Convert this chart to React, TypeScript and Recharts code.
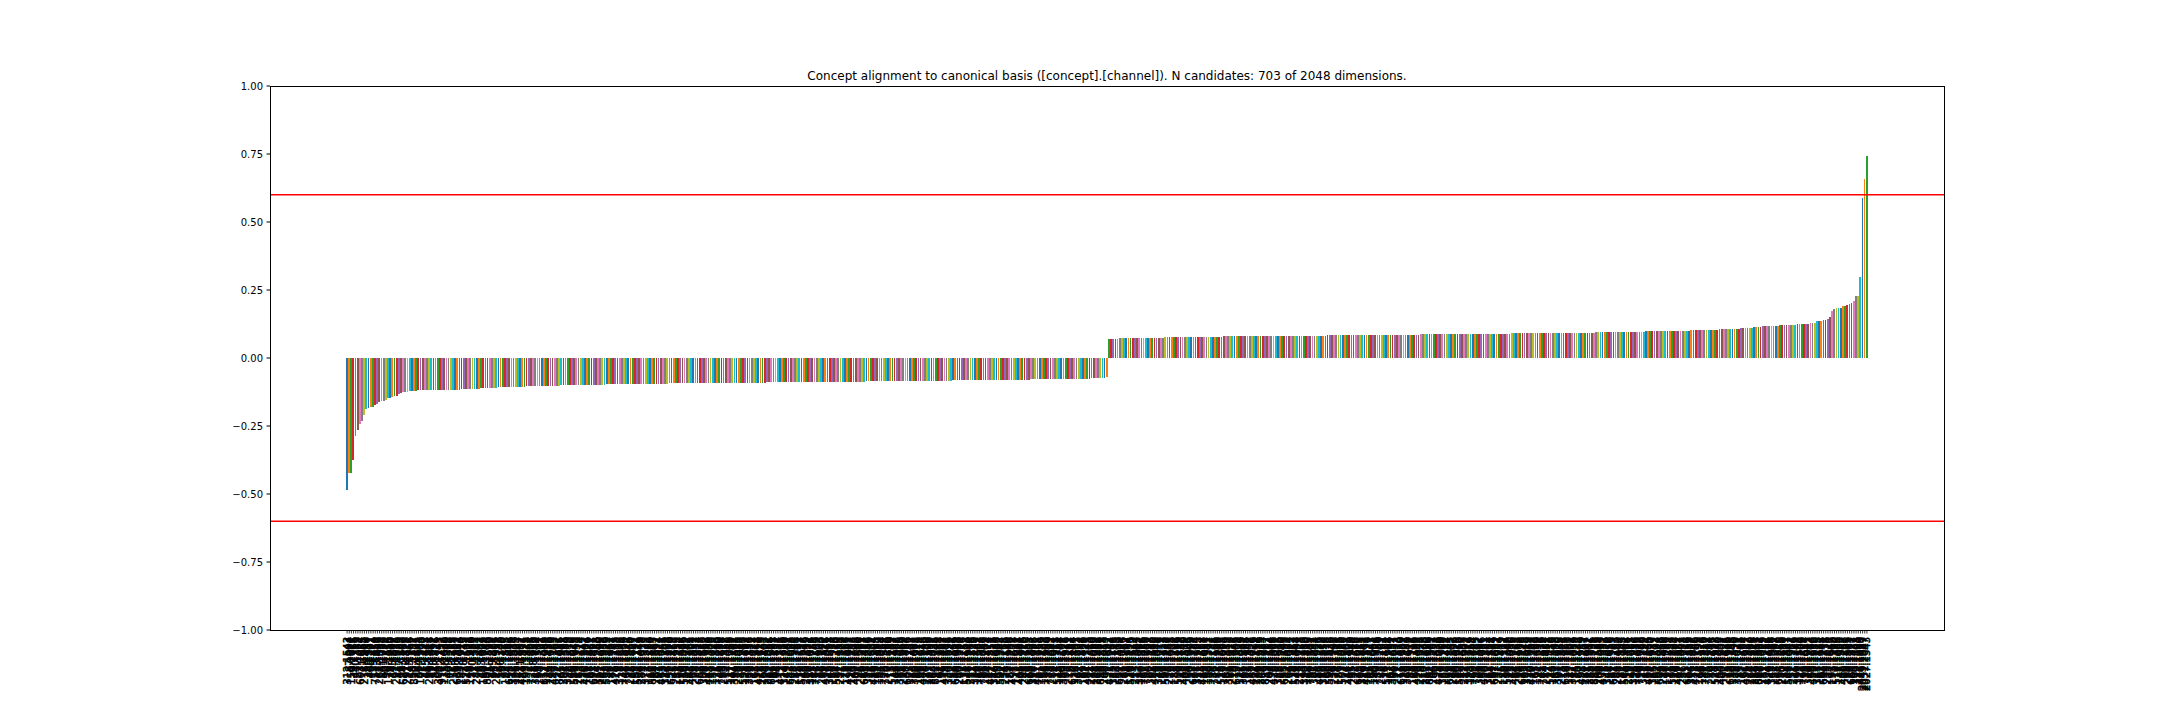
import { Bar, BarChart, Cell, ReferenceLine, XAxis, YAxis } from "recharts";

const TAB10 = ["#1f77b4", "#ff7f0e", "#2ca02c", "#d62728", "#9467bd", "#8c564b", "#e377c2", "#7f7f7f", "#bcbd22", "#17becf"];

const TITLE = "Concept alignment to canonical basis ([concept].[channel]). N candidates: 703 of 2048 dimensions.";

const Y_TICKS = [-1, -0.75, -0.5, -0.25, 0, 0.25, 0.5, 0.75, 1];
const THRESHOLD = 0.6;

// sorted alignment scores, negative side (352 candidates)
const NEG_VALUES = [
  -0.485, -0.423, -0.423, -0.375, -0.287, -0.265, -0.243, -0.232, -0.21, -0.188,
  -0.184, -0.18, -0.18, -0.173, -0.169, -0.162, -0.158, -0.158, -0.154, -0.147,
  -0.147, -0.143, -0.14, -0.14, -0.132, -0.129, -0.125, -0.125, -0.125, -0.121,
  -0.121, -0.121, -0.121,
  -0.118, -0.118, -0.118, -0.118, -0.118, -0.118, -0.118, -0.118, -0.118, -0.118,
  -0.118, -0.118, -0.118, -0.118, -0.118, -0.118, -0.118, -0.118, -0.118, -0.118,
  -0.114, -0.114, -0.114, -0.114, -0.114, -0.114, -0.114, -0.114, -0.114,
  -0.11, -0.11, -0.11, -0.11, -0.11, -0.11, -0.11, -0.11,
  -0.107, -0.107, -0.107, -0.107, -0.107, -0.107, -0.107, -0.107, -0.107, -0.107,
  -0.107, -0.107, -0.107,
  -0.103, -0.103, -0.103, -0.103, -0.103, -0.103, -0.103, -0.103, -0.103, -0.103,
  -0.103, -0.103, -0.103, -0.103, -0.103, -0.103,
  -0.099, -0.099, -0.099, -0.099, -0.099, -0.099, -0.099, -0.099, -0.099, -0.099,
  -0.099, -0.099, -0.099, -0.099, -0.099, -0.099, -0.099, -0.099, -0.099, -0.099,
  -0.099,
  -0.096, -0.096, -0.096, -0.096, -0.096, -0.096, -0.096, -0.096, -0.096, -0.096,
  -0.096, -0.096, -0.096, -0.096, -0.096, -0.096, -0.096, -0.096, -0.096, -0.096,
  -0.096, -0.096, -0.096, -0.096, -0.096, -0.096, -0.096, -0.096, -0.096,
  -0.092, -0.092, -0.092, -0.092, -0.092, -0.092, -0.092, -0.092, -0.092, -0.092,
  -0.092, -0.092, -0.092, -0.092, -0.092, -0.092, -0.092, -0.092, -0.092, -0.092,
  -0.092, -0.092, -0.092, -0.092, -0.092, -0.092, -0.092, -0.092, -0.092, -0.092,
  -0.092, -0.092, -0.092, -0.092, -0.092, -0.092, -0.092, -0.092, -0.092, -0.092,
  -0.092, -0.092, -0.092, -0.092, -0.092,
  -0.088, -0.088, -0.088, -0.088, -0.088, -0.088, -0.088, -0.088, -0.088, -0.088,
  -0.088, -0.088, -0.088, -0.088, -0.088, -0.088, -0.088, -0.088, -0.088, -0.088,
  -0.088, -0.088, -0.088, -0.088, -0.088, -0.088, -0.088, -0.088, -0.088, -0.088,
  -0.088, -0.088, -0.088, -0.088, -0.088, -0.088, -0.088, -0.088, -0.088, -0.088,
  -0.088, -0.088, -0.088, -0.088, -0.088, -0.088,
  -0.085, -0.085, -0.085, -0.085, -0.085, -0.085, -0.085, -0.085, -0.085, -0.085,
  -0.085, -0.085, -0.085, -0.085, -0.085, -0.085, -0.085, -0.085, -0.085, -0.085,
  -0.085, -0.085, -0.085, -0.085, -0.085, -0.085, -0.085, -0.085, -0.085, -0.085,
  -0.085, -0.085, -0.085, -0.085, -0.085, -0.085, -0.085, -0.085, -0.085, -0.085,
  -0.081, -0.081, -0.081, -0.081, -0.081, -0.081, -0.081, -0.081, -0.081, -0.081,
  -0.081, -0.081, -0.081, -0.081, -0.081, -0.081, -0.081, -0.081, -0.081, -0.081,
  -0.081, -0.081, -0.081, -0.081, -0.081, -0.081, -0.081, -0.081, -0.081, -0.081,
  -0.081, -0.081, -0.081, -0.081, -0.081, -0.081,
  -0.077, -0.077, -0.077, -0.077, -0.077, -0.077, -0.077, -0.077, -0.077, -0.077,
  -0.077, -0.077, -0.077, -0.077, -0.077, -0.077, -0.077, -0.077, -0.077, -0.077,
  -0.077, -0.077, -0.077, -0.077, -0.077, -0.077, -0.077, -0.077,
  -0.074, -0.074, -0.074, -0.074, -0.074, -0.074, -0.074, -0.07,
];

// positive side (351 candidates)
const POS_VALUES = [
  0.07, 0.07, 0.07, 0.07, 0.07,
  0.074, 0.074, 0.074, 0.074, 0.074, 0.074, 0.074, 0.074, 0.074, 0.074,
  0.074, 0.074, 0.074, 0.074, 0.074, 0.074, 0.074, 0.074, 0.074, 0.074,
  0.074,
  0.077, 0.077, 0.077, 0.077, 0.077, 0.077, 0.077, 0.077, 0.077, 0.077,
  0.077, 0.077, 0.077, 0.077, 0.077, 0.077, 0.077, 0.077, 0.077, 0.077,
  0.077, 0.077, 0.077, 0.077, 0.077, 0.077, 0.077,
  0.081, 0.081, 0.081, 0.081, 0.081, 0.081, 0.081, 0.081, 0.081, 0.081,
  0.081, 0.081, 0.081, 0.081, 0.081, 0.081, 0.081, 0.081, 0.081, 0.081,
  0.081, 0.081, 0.081, 0.081, 0.081, 0.081, 0.081, 0.081, 0.081, 0.081,
  0.081, 0.081, 0.081, 0.081, 0.081, 0.081, 0.081, 0.081, 0.081, 0.081,
  0.081, 0.081, 0.081, 0.081, 0.081, 0.081, 0.081, 0.081,
  0.085, 0.085, 0.085, 0.085, 0.085, 0.085, 0.085, 0.085, 0.085, 0.085,
  0.085, 0.085, 0.085, 0.085, 0.085, 0.085, 0.085, 0.085, 0.085, 0.085,
  0.085, 0.085, 0.085, 0.085, 0.085, 0.085, 0.085, 0.085, 0.085, 0.085,
  0.085, 0.085, 0.085, 0.085, 0.085, 0.085, 0.085, 0.085, 0.085, 0.085,
  0.085, 0.085, 0.085,
  0.088, 0.088, 0.088, 0.088, 0.088, 0.088, 0.088, 0.088, 0.088, 0.088,
  0.088, 0.088, 0.088, 0.088, 0.088, 0.088, 0.088, 0.088, 0.088, 0.088,
  0.088, 0.088, 0.088, 0.088, 0.088, 0.088, 0.088, 0.088, 0.088, 0.088,
  0.088, 0.088, 0.088, 0.088, 0.088, 0.088, 0.088, 0.088, 0.088, 0.088,
  0.088, 0.088,
  0.092, 0.092, 0.092, 0.092, 0.092, 0.092, 0.092, 0.092, 0.092, 0.092,
  0.092, 0.092, 0.092, 0.092, 0.092, 0.092, 0.092, 0.092, 0.092, 0.092,
  0.092, 0.092, 0.092, 0.092, 0.092, 0.092, 0.092, 0.092, 0.092, 0.092,
  0.092, 0.092, 0.092, 0.092, 0.092, 0.092, 0.092, 0.092, 0.092,
  0.096, 0.096, 0.096, 0.096, 0.096, 0.096, 0.096, 0.096, 0.096, 0.096,
  0.096, 0.096, 0.096, 0.096, 0.096, 0.096, 0.096, 0.096, 0.096, 0.096,
  0.096, 0.096, 0.096,
  0.099, 0.099, 0.099, 0.099, 0.099, 0.099, 0.099, 0.099, 0.099, 0.099,
  0.099, 0.099, 0.099, 0.099, 0.099, 0.099, 0.099, 0.099, 0.099, 0.099,
  0.099,
  0.103, 0.103, 0.103, 0.103, 0.103, 0.103, 0.103, 0.103, 0.103, 0.103,
  0.103, 0.103, 0.103,
  0.107, 0.107, 0.107, 0.107, 0.107, 0.107, 0.107, 0.107, 0.107, 0.107,
  0.11, 0.11, 0.11, 0.11, 0.11, 0.11,
  0.114, 0.114, 0.114, 0.114,
  0.118, 0.118, 0.118, 0.118, 0.118, 0.118, 0.118, 0.118,
  0.121, 0.121, 0.121, 0.121, 0.121, 0.121, 0.121, 0.121,
  0.125, 0.125, 0.125, 0.125, 0.125, 0.125,
  0.129, 0.129, 0.129, 0.136, 0.136, 0.136, 0.14, 0.14,
  0.143, 0.151, 0.173, 0.18, 0.184, 0.184, 0.184, 0.191, 0.191, 0.195,
  0.199, 0.202, 0.21, 0.228, 0.228, 0.298, 0.588, 0.658, 0.743,
];

// candidate ids, "[concept].[channel]"
const TICK_LABELS = `
312.1543 87.904 150.2011 9.1766 440.311 27.1389 603.1024 71.655 218.1902 5.1430 388.977 46.1201 129.874 752.1650 33.421 267.1999 14.1088 501.736 90.1314
176.1555 8.1920 345.602 61.1473 222.1035 417.189 39.1847 684.1260 12.518 297.1711 143.966 58.1392 820.1127 23.1605 364.744 101.1983 7.1290 455.843 66.1541
231.1718 19.1067 578.392 84.1826 300.1143 42.257 917.1472 135.1630 3.1999 409.568 72.1215 256.1788 18.903 639.1351 95.1044 187.1920 28.715 522.1603 49.1178
118.1936 710.480 37.1523 284.1261 6.1862 433.627 160.1099 57.1744 802.1318 25.1590 349.811 93.1406 212.1957 15.1733 566.349 78.1120 193.1865 44.1282 655.1048
11.1679 378.1534 106.1009 241.1847 31.682 487.1377 69.1225 153.1928 2.1461 721.1806 88.953 326.1149 53.1574 198.1702 17.1331 612.1089 124.1995 36.1438 274.1620
97.1185 449.1763 22.1297 831.1056 65.1911 207.1398 4.1584 392.1219 140.1870 55.1026 589.1643 29.1352 263.1779 113.1114 20.1947 476.1503 81.1276 168.1832 41.1067
693.1421 14.1988 357.1240 102.1695 247.1038 63.1856 538.1329 26.1562 181.1901 76.1147 424.1788 9.1413 318.1206 131.1934 48.1599 766.1072 21.1845 235.1360 86.1627
158.1192 507.1711 34.1449 289.1018 5.1973 371.1535 117.1284 60.1810 845.1163 24.1667 202.1392 91.1924 463.1041 13.1756 332.1303 146.1588 52.1870 621.1129 38.1468
251.1955 73.1214 190.1637 16.1386 558.1099 109.1742 43.1265 406.1908 83.1551 228.1031 1.1814 682.1427 99.1680 306.1152 27.1993 445.1339 127.1706 59.1073 171.1845
35.1480 740.1239 68.1616 283.1927 12.1358 517.1045 137.1779 47.1201 394.1862 89.1525 216.1088 7.1947 599.1310 121.1693 30.1154 352.1836 79.1412 163.1271 54.1968
472.1117 18.1629 268.1745 104.1403 239.1982 62.1056 861.1521 39.1298 194.1857 94.1134 413.1711 3.1389 324.1920 149.1247 51.1603 643.1086 28.1944 257.1368 75.1751
132.1192 529.1637 45.1318 209.1899 10.1471 381.1026 115.1785 67.1245 776.1569 23.1903 296.1140 85.1822 437.1376 16.1061 343.1598 156.1934 57.1223 584.1710 32.1455
221.1872 71.1109 179.1666 6.1341 494.1987 111.1253 40.1725 402.1098 92.1590 245.1961 19.1322 665.1417 98.1788 311.1046 26.1631 458.1204 139.1865 61.1382 184.1919
37.1064 729.1543 70.1286 277.1830 13.1159 512.1702 142.1437 49.1968 386.1025 87.1669 214.1309 8.1884 607.1136 125.1752 33.1497 359.1063 80.1928 166.1275 56.1614
481.1848 20.1180 271.1523 107.1899 243.1357 64.1035 852.1746 41.1288 197.1961 96.1422 419.1107 4.1675 330.1896 152.1241 53.1566 649.1019 30.1833 260.1399 77.1728
134.1152 533.1603 46.1940 211.1268 11.1815 384.1130 119.1581 66.1993 781.1366 25.1047 299.1709 84.1474 441.1851 17.1216 346.1637 159.1080 58.1902 592.1343 34.1765
224.1114 72.1549 182.1986 7.1232 497.1678 112.1021 42.1804 405.1441 93.1926 248.1170 21.1655 669.1303 100.1877 314.1098 27.1722 461.1385 141.1954 62.1139 186.1603
38.1860 733.1229 71.1692 280.1047 14.1918 515.1351 144.1784 50.1107 389.1625 88.1976 217.1262 9.1831 610.1154 126.1497 34.1703 362.1032 81.1888 169.1436 57.1171
484.1745 21.1313 274.1660 108.1089 246.1935 65.1456 856.1221 42.1818 200.1073 97.1592 422.1947 5.1264 333.1718 153.1145 54.1873 652.1409 31.1036 262.1762 78.1297
136.1954 536.1125 47.1679 213.1344 12.1903 387.1062 120.1816 67.1481 785.1250 26.1997 302.1133 85.1660 444.1412 18.1849 348.1076 161.1711 59.1323 595.1928 35.1187
226.1645 73.1038 185.1793 8.1466 500.1219 113.1882 43.1140 408.1579 94.1006 250.1842 22.1399 672.1733 101.1164 317.1935 28.1287 464.1618 143.1057 63.1981 188.1372
39.1797 736.1145 72.1526 282.1908 15.1262 518.1685 145.1093 51.1839 391.1417 89.1220 219.1971 10.1646 613.1308 127.1874 35.1039 365.1591 82.1168 171.1942 58.1355
487.1026 22.1779 276.1194 109.1614 249.1829 66.1283 859.1967 43.1117 203.1654 98.1406 425.1866 6.1071 336.1535 154.1990 55.1246 655.1698 32.1431 264.1084 79.1917
138.1363 539.1848 48.1097 215.1728 13.1253 390.1989 122.1410 68.1135 789.1602 27.1791 305.1042 86.1926 447.1237 19.1570 350.1854 162.1118 60.1675 598.1336 36.1949
229.1196 74.1711 187.1386 9.1922 503.1050 114.1567 44.1803 411.1129 95.1940 252.1274 23.1688 675.1015 102.1855 320.1441 29.1172 467.1896 146.1327 64.1643 190.1061
40.1926 739.1358 73.1209 285.1761 16.1424 521.1102 147.1984 52.1292 394.1657 90.1037 221.1813 11.1470 616.1189 128.1902 36.1231 368.1640 83.1977 173.1116 59.1796
490.1402 23.1045 279.1878 110.1333 252.1690 67.1158 862.1949 44.1561 206.1252 99.1838 428.1076 7.1709 339.1960 155.1211 56.1482 658.1845 33.1137 266.1593 80.1029
140.1875 542.1260 49.1638 217.1003 14.1771 393.1314 123.1969 69.1444 792.1185 28.1862 308.1527 87.1096 450.1951 20.1381 353.1164 164.1817 61.1234 601.1699 37.1082
231.1934 75.1419 189.1127 10.1784 506.1342 115.1990 45.1056 414.1723 96.1265 254.1587 24.1930 678.1176 103.1643 323.1019 30.1868 470.1303 147.1741 65.1480 192.1859
41.1216 742.1679 74.1034 287.1452 17.1911 524.1230 148.1516 53.1793 397.1070 91.1885 223.1342 12.1126 619.1967 129.1560 37.1301 371.1834 84.1059 175.1725 60.1448
493.1939 24.1251 282.1607 111.1042 255.1871 68.1396 865.1121 45.1739 209.1588 100.1013 431.1892 8.1333 342.1079 156.1656 57.1925 661.1207 34.1763 268.1440 81.1994
142.1143 545.1902 50.1468 219.1721 15.1085 396.1954 124.1338 70.1615 796.1027 29.1780 311.1299 88.1844 453.1165 21.1620 355.1937 165.1272 62.1503 604.1048 38.1864
233.1419 76.1996 191.1263 11.1557 509.1829 116.1104 46.1672 417.1381 97.1947 256.1038 25.1714 681.1352 104.1889 326.1237 31.1046 473.1766 148.1598 66.1123 194.1976
42.1310 745.1847 75.1584 289.1116 18.1697 527.1973 149.1240 54.1032 400.1802 92.1427 225.1675 13.1909 622.1155 130.1348 38.1890 374.1071 85.1743 177.1285 61.1654
496.1227 25.1952 284.1460 112.1878 258.1141 69.1613 868.1302 46.1987 211.1029 101.1752 434.1386 9.1615 345.1936 157.1092 58.1397 664.1820 35.1255 270.1690 82.1121
144.1807 548.1047 51.1963 221.1376 16.1742 399.1133 125.1888 71.1206 799.1654 30.1041 314.1912 89.1283 456.1696 22.1858 357.1115 167.1582 63.1948 607.1271 39.1736
235.1024 77.1647 193.1919 12.1390 512.1786 117.1064 47.1933 420.1268 98.1821 258.1505 26.1163 684.1977 105.1431 329.1708 32.1084 476.1858 2043.1987 2031.2047 2027.1543
`.trim().split(/\s+/);

const data = [...NEG_VALUES, ...POS_VALUES].map((value, i) => ({ label: TICK_LABELS[i] ?? "", value }));

// axes box in page pixels (matplotlib-style frame)
const W = 2160;
const H = 720;
const BOX = { left: 270, top: 86, right: 1944, bottom: 630 };
const Y_AXIS_W = 60;
const X_AXIS_H = 70;

const fmtY = (v: number) => (v < 0 ? "\u2212" : "") + Math.abs(v).toFixed(2);

function RotatedTick({ x, y, payload }: any) {
  return (
    <text
      transform={`translate(${x},${y}) rotate(-90)`}
      textAnchor="end"
      dominantBaseline="central"
      fontSize={10}
      fill="#000"
      stroke="#000"
      strokeWidth={0.5}
    >
      {payload.value}
    </text>
  );
}

function CrispBar({ x, y, width, height, fill }: any) {
  if (!width || !height) return null;
  const top = height < 0 ? y + height : y;
  return <rect x={x} y={top} width={width} height={Math.abs(height)} fill={fill} shapeRendering="crispEdges" />;
}

export default function App() {
  return (
    <div style={{ position: "absolute", left: 0, top: 0, width: W, height: H, background: "#fff", fontFamily: "DejaVu Sans" }}>
      <BarChart
        width={W}
        height={H}
        data={data}
        margin={{ top: BOX.top, right: W - BOX.right, bottom: H - BOX.bottom - X_AXIS_H, left: BOX.left - Y_AXIS_W }}
      >
        <XAxis
          dataKey="label"
          interval={0}
          tick={<RotatedTick />}
          tickSize={3.5}
          tickMargin={3.5}
          height={X_AXIS_H}
          padding={{ left: 76, right: 76 }}
          axisLine={false}
          tickLine={{ stroke: "#000", strokeWidth: 0.8 }}
        />
        <YAxis
          type="number"
          domain={[-1, 1]}
          ticks={Y_TICKS}
          tickFormatter={fmtY}
          width={Y_AXIS_W}
          tickSize={3.5}
          tickMargin={3.5}
          tick={{ fill: "#000", fontSize: 10 }}
          axisLine={false}
          tickLine={{ stroke: "#000" }}
          allowDataOverflow
        />
        <Bar dataKey="value" barSize={1.73} isAnimationActive={false} shape={<CrispBar />}>
          {data.map((_, i) => (
            <Cell key={i} fill={TAB10[i % 10]} />
          ))}
        </Bar>
        <ReferenceLine y={THRESHOLD} stroke="#ff0000" strokeWidth={1.5} />
        <ReferenceLine y={-THRESHOLD} stroke="#ff0000" strokeWidth={1.5} />
      </BarChart>
      <svg width={W} height={H} style={{ position: "absolute", left: 0, top: 0, pointerEvents: "none" }}>
        <text x={(BOX.left + BOX.right) / 2} y={BOX.top - 6} textAnchor="middle" fontSize={12} fill="#000" fontFamily="DejaVu Sans">
          {TITLE}
        </text>
        <rect
          x={BOX.left + 0.5}
          y={BOX.top + 0.5}
          width={BOX.right - BOX.left}
          height={BOX.bottom - BOX.top}
          fill="none"
          stroke="#000"
          strokeWidth={1}
        />
      </svg>
    </div>
  );
}
